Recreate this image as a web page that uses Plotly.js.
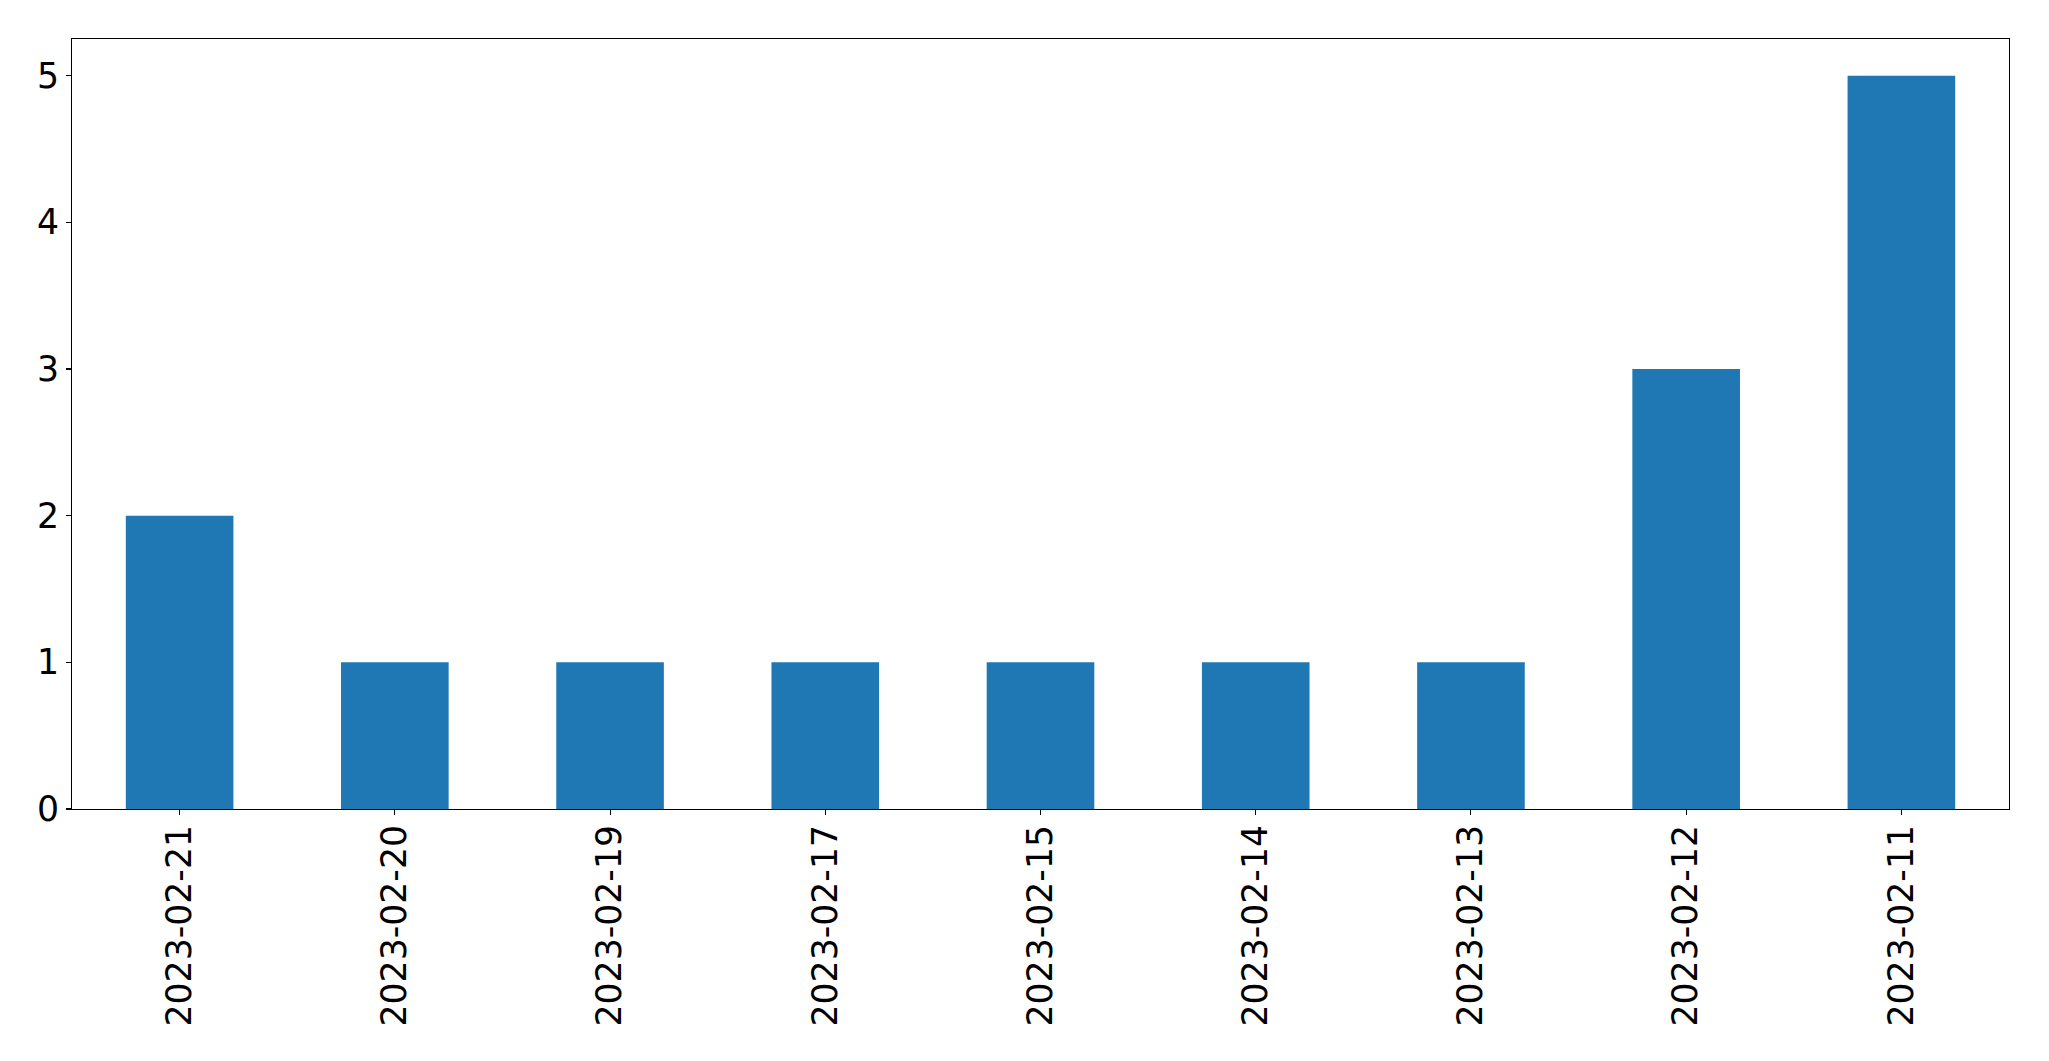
<!DOCTYPE html>
<html>
<head>
<meta charset="utf-8">
<script src="https://cdn.plot.ly/plotly-3.0.1.min.js"></script>
<style>
  html, body { margin: 0; padding: 0; background: #ffffff; }
  #chart { width: 2049px; height: 1061px; }
</style>
</head>
<body>
<div id="chart"></div>
<script>
const dates = ["2023-02-21", "2023-02-20", "2023-02-19", "2023-02-17", "2023-02-15", "2023-02-14", "2023-02-13", "2023-02-12", "2023-02-11"];
const counts = [2, 1, 1, 1, 1, 1, 1, 3, 5];
const yTicks = [0, 1, 2, 3, 4, 5];

const fontFamily = "DejaVu Sans, sans-serif";

const trace = {
  type: "bar",
  x: dates,
  y: counts,
  width: 0.5,
  marker: { color: "#1f77b4", line: { width: 0 } },
  hoverinfo: "x+y"
};

const layout = {
  width: 2049,
  height: 1061,
  paper_bgcolor: "#ffffff",
  plot_bgcolor: "#ffffff",
  showlegend: false,
  margin: { l: 72.3, r: 39.7, t: 39.3, b: 252, pad: 0 },
  font: { family: fontFamily, size: 34.7, color: "#000000" },
  xaxis: {
    type: "category",
    range: [-0.5, dates.length - 0.5],
    tickangle: -90,
    ticks: "outside",
    ticklen: 5,
    tickwidth: 1.1,
    tickcolor: "#000000",
    ticklabelstandoff: -4,
    showline: true,
    linecolor: "#000000",
    linewidth: 1.1,
    mirror: true,
    showgrid: false,
    zeroline: false,
    tickfont: { family: fontFamily, size: 34.7, color: "#000000" }
  },
  yaxis: {
    range: [0, 5.25],
    tickmode: "array",
    tickvals: yTicks,
    ticktext: yTicks.map(String),
    ticks: "outside",
    ticklen: 5,
    tickwidth: 1.1,
    tickcolor: "#000000",
    showline: true,
    linecolor: "#000000",
    linewidth: 1.1,
    mirror: true,
    showgrid: false,
    zeroline: false,
    tickfont: { family: fontFamily, size: 34.7, color: "#000000" }
  }
};

Plotly.newPlot("chart", [trace], layout, { displayModeBar: false, staticPlot: true });
</script>
</body>
</html>
